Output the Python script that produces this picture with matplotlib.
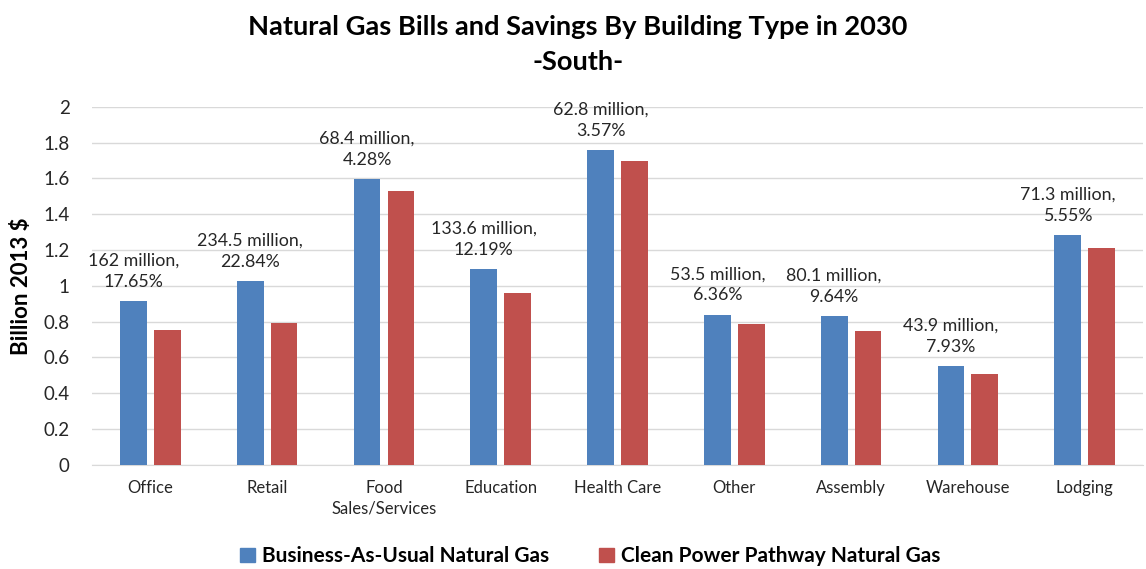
import matplotlib
matplotlib.use("Agg")
import matplotlib.pyplot as plt
import numpy as np
from matplotlib.patches import Patch

plt.rcParams['font.family'] = ['Lato', 'DejaVu Sans']

# data
categories = ["Office", "Retail", "Food\nSales/Services", "Education", "Health Care",
              "Other", "Assembly", "Warehouse", "Lodging"]
bau_gas = [0.917, 1.026, 1.597, 1.095, 1.758, 0.840, 0.830, 0.553, 1.283]
cpp_gas = [0.755, 0.791, 1.529, 0.961, 1.695, 0.787, 0.750, 0.509, 1.212]
savings_labels = ["162 million,\n17.65%", "234.5 million,\n22.84%", "68.4 million,\n4.28%",
                  "133.6 million,\n12.19%", "62.8 million,\n3.57%", "53.5 million,\n6.36%",
                  "80.1 million,\n9.64%", "43.9 million,\n7.93%", "71.3 million,\n5.55%"]
series_names = ["Business-As-Usual Natural Gas", "Clean Power Pathway Natural Gas"]

blue = "#4F81BD"
red = "#C0504D"

fig = plt.figure(figsize=(11.46, 5.69), dpi=100)
ax = fig.add_axes([0.0803, 0.1828, 0.9171, 0.6297])

x = np.arange(len(categories))
width = 0.229
off = 0.145
ax.bar(x - off, bau_gas, width, color=blue, zorder=3)
ax.bar(x + off, cpp_gas, width, color=red, zorder=3)

# savings labels centred over the BAU bar
for xi, v, lab in zip(x, bau_gas, savings_labels):
    ax.annotate(lab, (xi - off, v), xytext=(0, 8), textcoords="offset points",
                ha="center", va="bottom", fontsize=12.8, color="#262626",
                linespacing=1.4, multialignment="center", annotation_clip=False)

ax.set_xlim(-0.5, len(categories) - 0.5)
ax.set_ylim(0, 2)
ax.set_yticks(np.arange(0, 2.01, 0.2))
ax.set_yticklabels(["0", "0.2", "0.4", "0.6", "0.8", "1", "1.2", "1.4", "1.6", "1.8", "2"])
ax.set_xticks(x)
ax.set_xticklabels(categories, fontsize=12, color="#262626", linespacing=1.35)
ax.tick_params(axis="y", length=0, pad=16, labelsize=13.5, labelcolor="#262626")
ax.tick_params(axis="x", length=0, pad=11)
ax.yaxis.grid(True, color="#d9d9d9", linewidth=1, zorder=0)
for s in ["top", "right", "left"]:
    ax.spines[s].set_visible(False)
ax.spines["bottom"].set_color("#d9d9d9")
ax.set_ylabel("Billion 2013 $", fontsize=16, fontweight="bold", labelpad=8)

fig.text(0.504, 0.952, "Natural Gas Bills and Savings By Building Type in 2030",
         ha="center", va="center", fontsize=19.6, fontweight="bold")
fig.text(0.504, 0.891, "-South-", ha="center", va="center", fontsize=19.6, fontweight="bold")

handles = [Patch(color=blue), Patch(color=red)]
fig.legend(handles, series_names, loc="center", bbox_to_anchor=(0.515, 0.022),
           ncol=2, frameon=False, prop={"weight": "bold", "size": 15},
           handlelength=0.7, handleheight=0.7, handletextpad=0.35, columnspacing=2.4)

fig.savefig("out.png", dpi=100)
